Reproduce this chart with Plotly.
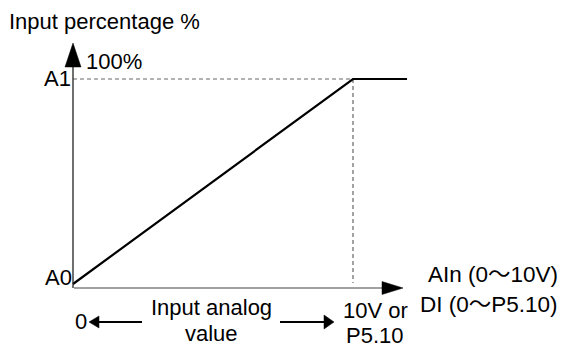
import plotly.graph_objects as go

# ---- data ----
input_signal = [0, 10, 11.93]      # analog input (V); saturates after 10V / P5.10
input_percent = [0, 100, 100]      # input percentage (%), A0 -> A1
y_tick_labels = ["A0", "A1"]
y_tick_values = [0, 100]
y_axis_title = "Input percentage %"
top_label = "100%"
x_start_label = "0"
x_mid_label = ["Input analog", "value"]
x_end_label = ["10V or", "P5.10"]
TILDE = '<span style="font-family:Noto Sans CJK SC">～</span>'
x_axis_title = ["AIn (0" + TILDE + "10V)", "DI (0" + TILDE + "P5.10)"]

# ---- pixel <-> data mapping ----
W, H = 561, 347
X0_PX, X10_PX = 73, 353
Y0_PX, Y100_PX = 284, 79
sx = (X10_PX - X0_PX) / 10.0
sy = (Y0_PX - Y100_PX) / 100.0
def dx(px): return (px - X0_PX) / sx
def dy(py): return (Y0_PX - py) / sy

FONT = "Arial, Liberation Sans, sans-serif"
FS = 22

fig = go.Figure()

# dashed guides
fig.add_trace(go.Scatter(x=[0, input_signal[1]], y=[input_percent[1]] * 2, mode="lines",
                         line=dict(color="#666666", width=1.2, dash="4px,3px"), hoverinfo="skip"))
fig.add_trace(go.Scatter(x=[input_signal[1]] * 2, y=[input_percent[1], dy(283)], mode="lines",
                         line=dict(color="#666666", width=1.2, dash="4px,3px"), hoverinfo="skip"))
# main characteristic
fig.add_trace(go.Scatter(x=input_signal, y=input_percent, mode="lines",
                         line=dict(color="black", width=2.2), hoverinfo="skip"))

shapes = []
# axes lines
shapes.append(dict(type="line", xref="x", yref="y", x0=dx(74), x1=dx(383), y0=dy(288), y1=dy(288),
                   line=dict(color="#444444", width=1.2)))
shapes.append(dict(type="line", xref="x", yref="y", x0=0, x1=0, y0=dy(288), y1=dy(66),
                   line=dict(color="#222222", width=1.3)))

def tri(p1, p2, p3):
    return dict(type="path", xref="x", yref="y",
                path="M {} {} L {} {} L {} {} Z".format(dx(p1[0]), dy(p1[1]), dx(p2[0]), dy(p2[1]), dx(p3[0]), dy(p3[1])),
                fillcolor="black", line=dict(color="black", width=0.5))

shapes.append(tri((65, 67), (73, 43), (81, 67)))
shapes.append(tri((382, 281.5), (403, 288), (382, 294.5)))
# bottom arrows
shapes.append(dict(type="line", xref="x", yref="y", x0=dx(98), x1=dx(142), y0=dy(322), y1=dy(322),
                   line=dict(color="black", width=2)))
shapes.append(tri((99, 316), (89, 322), (99, 328)))
shapes.append(dict(type="line", xref="x", yref="y", x0=dx(280), x1=dx(325), y0=dy(322), y1=dy(322),
                   line=dict(color="black", width=2)))
shapes.append(tri((324, 315), (334, 322), (324, 329)))

ann = []
def text(t, px, py, xanchor="left", align="left", size=FS):
    ann.append(dict(text=t, x=dx(px), y=dy(py), xref="x", yref="y", showarrow=False,
                    xanchor=xanchor, yanchor="middle", align=align,
                    font=dict(family=FONT, size=size, color="black")))

text(y_axis_title, 7, 21)
text(top_label, 84, 61)
text(y_tick_labels[1], 73, 78, xanchor="right")
text(y_tick_labels[0], 74, 277, xanchor="right")
text(x_start_label, 73, 321)
text(x_mid_label[0], 211, 307, xanchor="center")
text(x_mid_label[1], 211, 333, xanchor="center")
text(x_end_label[0], 375, 310, xanchor="center")
text(x_end_label[1], 375, 335, xanchor="center")
text(x_axis_title[0], 560, 272, xanchor="right", size=22.5)
text(x_axis_title[1], 560, 302, xanchor="right", size=22.5)

fig.update_layout(
    width=W, height=H, margin=dict(l=0, r=0, t=0, b=0),
    paper_bgcolor="white", plot_bgcolor="white", showlegend=False,
    xaxis=dict(range=[dx(0), dx(W)], visible=False, fixedrange=True),
    yaxis=dict(range=[dy(H), dy(0)], visible=False, fixedrange=True),
    shapes=shapes, annotations=ann,
)
fig.write_html("out.html", config={"displayModeBar": False},
               post_script="document.body.style.margin='0';document.body.style.overflow='hidden';")
